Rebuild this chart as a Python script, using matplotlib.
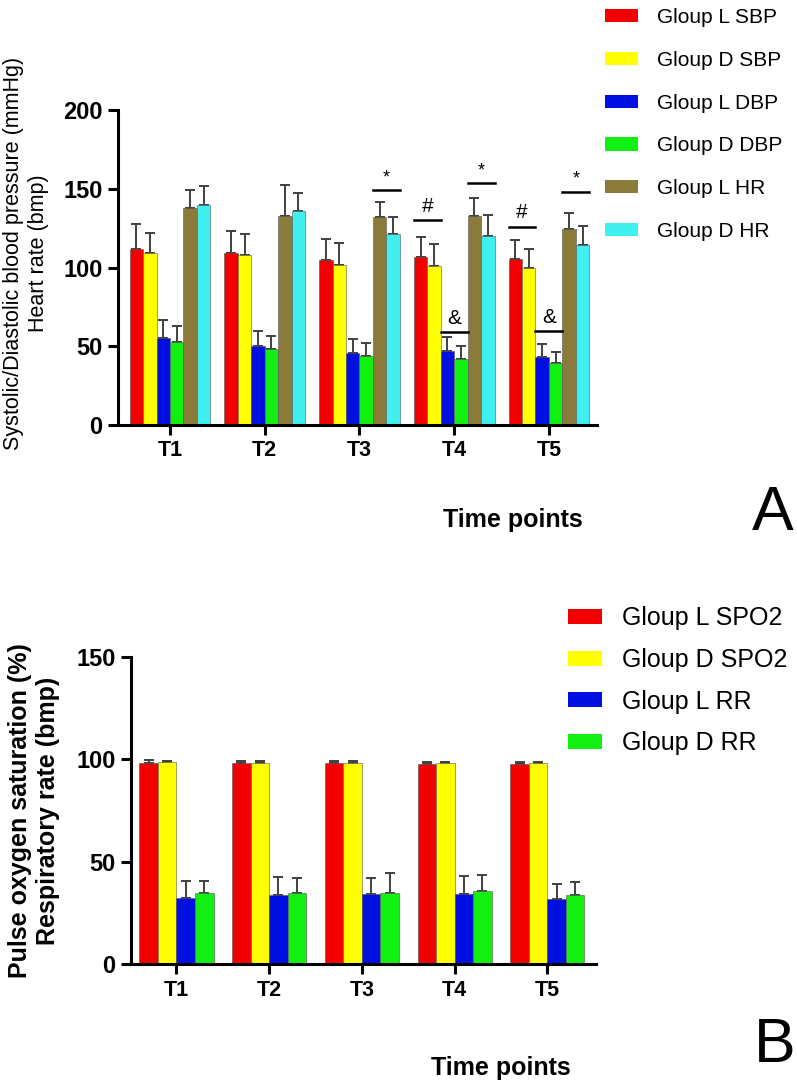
import matplotlib
matplotlib.use("Agg")
import matplotlib.pyplot as plt
import numpy as np
from matplotlib.patches import Patch

plt.rcParams['font.family'] = ['Liberation Sans', 'DejaVu Sans']

TIME_POINTS = ["T1", "T2", "T3", "T4", "T5"]

# Panel A: blood pressure and heart rate (mean, SD)
a_labels = ["Gloup L SBP", "Gloup D SBP", "Gloup L DBP", "Gloup D DBP", "Gloup L HR", "Gloup D HR"]
a_colors = ["#f20000", "#ffff00", "#0010e0", "#12f012", "#8b7b3b", "#40f0f0"]
a_means = [
    [112.0, 109.2, 105.0, 106.7, 105.2],   # L SBP
    [109.2, 107.7, 101.8, 101.0, 99.9],    # D SBP
    [55.0, 50.0, 45.8, 46.9, 43.3],        # L DBP
    [52.8, 48.4, 43.7, 41.8, 39.1],        # D DBP
    [137.7, 132.7, 131.8, 132.7, 124.4],   # L HR
    [140.0, 136.0, 121.5, 120.2, 114.5],   # D HR
]
a_sd = [
    [15.5, 14.0, 13.0, 12.7, 12.5],
    [13.0, 13.5, 13.7, 14.0, 11.6],
    [11.5, 10.0, 9.0, 8.7, 8.0],
    [10.0, 8.0, 8.5, 8.5, 7.0],
    [11.7, 20.0, 9.7, 11.4, 10.1],
    [12.0, 11.5, 10.3, 12.9, 11.6],
]
# significance marks: (time point index, bar pair index, line height, symbol)
a_marks = [
    (2, 2, 149.0, "*"),
    (3, 0, 130.0, "#"),
    (3, 1, 59.0, "&"),
    (3, 2, 153.5, "*"),
    (4, 0, 126.0, "#"),
    (4, 1, 59.6, "&"),
    (4, 2, 148.0, "*"),
]

# Panel B: SpO2 and respiratory rate (mean, SD)
b_labels = ["Gloup L SPO2", "Gloup D SPO2", "Gloup L RR", "Gloup D RR"]
b_colors = ["#f20000", "#ffff00", "#0010e0", "#12f012"]
b_means = [
    [98.0, 98.0, 98.0, 97.6, 97.6],
    [98.5, 98.3, 98.3, 98.1, 98.1],
    [32.5, 33.8, 34.1, 34.1, 31.7],
    [34.6, 34.9, 34.9, 35.9, 33.7],
]
b_sd = [
    [1.5, 1.2, 1.0, 1.3, 1.0],
    [0.8, 0.8, 0.8, 0.7, 0.8],
    [8.0, 9.0, 8.2, 9.0, 7.5],
    [6.2, 7.4, 9.5, 7.5, 6.4],
]

fig = plt.figure(figsize=(7.97, 10.85), dpi=100)
ax_a = fig.add_axes([0.148, 0.6083, 0.601, 0.2903])
ax_b = fig.add_axes([0.1644, 0.1112, 0.5834, 0.2835])

x = np.arange(len(TIME_POINTS))


def draw_bars(ax, means, sds, colors, width):
    n = len(means)
    for i in range(n):
        pos = x + (i - (n - 1) / 2) * width
        ax.bar(pos, means[i], width=width, color=colors[i], edgecolor="#555555",
               linewidth=0.4, zorder=2)
        ax.errorbar(pos, means[i], yerr=[np.zeros(len(sds[i])), sds[i]], fmt="none",
                    ecolor="#404040", elinewidth=1.4, capsize=3.5, capthick=1.4, zorder=1)


def style_axes(ax, ymax, step, xlim):
    ax.set_ylim(0, ymax)
    ax.set_yticks(np.arange(0, ymax + 1, step))
    ax.set_xlim(*xlim)
    ax.set_xticks(x)
    ax.set_xticklabels(TIME_POINTS, fontsize=15.5, fontweight="bold")
    for lab in ax.get_yticklabels():
        lab.set_fontsize(17)
        lab.set_fontweight("bold")
    for s in ["top", "right"]:
        ax.spines[s].set_visible(False)
    for s in ["left", "bottom"]:
        ax.spines[s].set_linewidth(2.2)
    ax.tick_params(axis="both", length=7, width=2.2, direction="out", pad=4)


wa = 0.142
draw_bars(ax_a, a_means, a_sd, a_colors, wa)
style_axes(ax_a, 200, 50, (-0.549, 4.507))
for g, p, yv, sym in a_marks:
    cx = g + (2 * p - 2.5 + 0.5) * wa
    ax_a.plot([cx - wa, cx + wa], [yv, yv], color="black", lw=1.8)
    ax_a.annotate(sym, (cx, yv), xytext=(0, 3), textcoords="offset points",
                  ha="center", va="bottom", fontsize=15 if sym != "*" else 13)

wb = 0.2
draw_bars(ax_b, b_means, b_sd, b_colors, wb)
style_axes(ax_b, 150, 50, (-0.49, 4.525))

fig.legend(handles=[Patch(facecolor=c, edgecolor="none") for c in a_colors], labels=a_labels,
           loc="upper left", bbox_to_anchor=(605 / 797, 0.9925), frameon=False,
           borderaxespad=0, borderpad=0, fontsize=15, handlelength=1.6, handleheight=0.6,
           handletextpad=0.9, labelspacing=1.14)
fig.legend(handles=[Patch(facecolor=c, edgecolor="none") for c in b_colors], labels=b_labels,
           loc="upper left", bbox_to_anchor=(568 / 797, 0.4413), frameon=False,
           borderaxespad=0, borderpad=0, fontsize=18, handlelength=1.35, handleheight=0.55,
           handletextpad=0.8, labelspacing=0.71)

fig.text(26 / 797, 1 - 253 / 1085, "Systolic/Diastolic blood pressure (mmHg)\nHeart rate (bmp)",
         rotation=90, ha="center", va="center", fontsize=15.5, multialignment="center")
fig.text(34 / 797, 1 - 811 / 1085, "Pulse oxygen saturation (%)\nRespiratory rate (bmp)",
         rotation=90, ha="center", va="center", fontsize=18, fontweight="bold",
         multialignment="center")

fig.text(513 / 797, 1 - 520 / 1085, "Time points", ha="center", va="center",
         fontsize=18, fontweight="bold")
fig.text(501 / 797, 1 - 1068 / 1085, "Time points", ha="center", va="center",
         fontsize=18, fontweight="bold")
fig.text(773 / 797, 1 - 514 / 1085, "A", ha="center", va="center", fontsize=45)
fig.text(775 / 797, 1 - 1046 / 1085, "B", ha="center", va="center", fontsize=45)

fig.savefig("out.png", dpi=100)
